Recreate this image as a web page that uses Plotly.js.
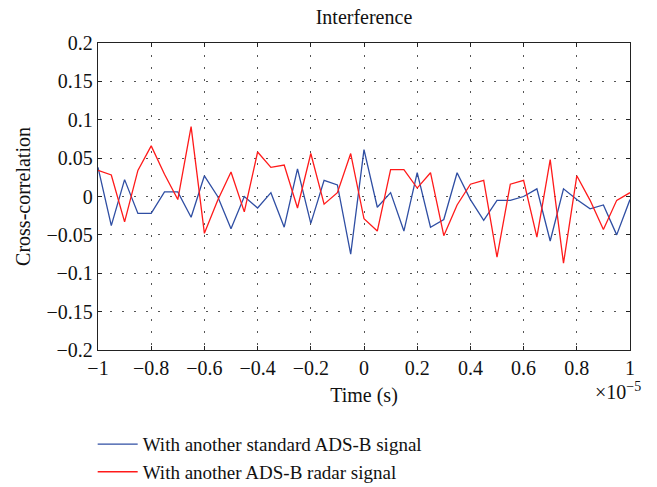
<!DOCTYPE html>
<html>
<head>
<meta charset="utf-8">
<script src="https://cdn.plot.ly/plotly-3.0.1.min.js"></script>
<style>html,body{margin:0;padding:0;background:#fff;}#chart{width:657px;height:487px;}</style>
</head>
<body>
<div id="chart"></div>
<script>
// time in units of 1e-5 s
const timeVals = [-1.00,-0.95,-0.90,-0.85,-0.80,-0.75,-0.70,-0.65,-0.60,-0.55,-0.50,-0.45,-0.40,-0.35,-0.30,-0.25,-0.20,-0.15,-0.10,-0.05,
  0.00,0.05,0.10,0.15,0.20,0.25,0.30,0.35,0.40,0.45,0.50,0.55,0.60,0.65,0.70,0.75,0.80,0.85,0.90,0.95,1.00];

const standardADSB = [0.038,-0.038,0.022,-0.022,-0.022,0.006,0.006,-0.027,0.027,0.000,-0.042,0.000,-0.015,0.005,-0.040,0.036,-0.035,0.021,0.015,-0.075,
  0.061,-0.014,0.005,-0.045,0.031,-0.040,-0.030,0.031,-0.004,-0.031,-0.005,-0.005,0.000,0.010,-0.058,0.010,-0.004,-0.016,-0.011,-0.050,-0.004];

const radarADSB = [0.034,0.028,-0.033,0.034,0.066,0.029,-0.004,0.091,-0.048,-0.005,0.032,-0.020,0.058,0.038,0.041,-0.015,0.056,-0.010,0.005,0.056,
  -0.029,-0.045,0.035,0.035,0.011,0.031,-0.051,-0.011,0.016,0.021,-0.079,0.016,0.021,-0.053,0.048,-0.087,0.027,-0.005,-0.043,-0.005,0.005];

const seriesNames = ["With another standard ADS-B signal", "With another ADS-B radar signal"];
const xTicks = [-1,-0.8,-0.6,-0.4,-0.2,0,0.2,0.4,0.6,0.8,1];
const yTicks = [-0.2,-0.15,-0.1,-0.05,0,0.05,0.1,0.15,0.2];
const xTickText = ["\u22121","\u22120.8","\u22120.6","\u22120.4","\u22120.2","0","0.2","0.4","0.6","0.8","1"];
const yTickText = ["\u22120.2","\u22120.15","\u22120.1","\u22120.05","0","0.05","0.1","0.15","0.2"];

const FONT = "Liberation Serif, Times New Roman, serif";

const traces = [
  {x: timeVals, y: standardADSB, name: seriesNames[0], type: "scatter", mode: "lines",
   line: {color: "#2f4ea3", width: 1.3}},
  {x: timeVals, y: radarADSB, name: seriesNames[1], type: "scatter", mode: "lines",
   line: {color: "#ff1a1a", width: 1.3}}
];

const axisCommon = {
  showline: true, linecolor: "#222", linewidth: 1.2, mirror: "ticks",
  ticks: "inside", ticklen: 4, tickcolor: "#222",
  showgrid: true, gridcolor: "#555", griddash: "1.5px,10.5px", gridwidth: 1,
  zeroline: false, tickangle: 0, tickfont: {family: FONT, size: 20, color: "#111"}
};

const layout = {
  width: 657, height: 487,
  paper_bgcolor: "#fff", plot_bgcolor: "#fff",
  margin: {l: 98, r: 27, t: 43, b: 137, autoexpand: false},
  font: {family: FONT, color: "#111"},
  title: {text: "Interference", font: {family: FONT, size: 20, color: "#111"},
          x: 0.554, xanchor: "center", y: 0.965, yanchor: "middle", yref: "container"},
  xaxis: Object.assign({}, axisCommon, {
    range: [-1, 1], tickvals: xTicks, ticktext: xTickText, automargin: false,
    title: {text: "Time (s)", font: {family: FONT, size: 20, color: "#111"}, standoff: 9}
  }),
  yaxis: Object.assign({}, axisCommon, {
    range: [-0.2, 0.2], tickvals: yTicks, ticktext: yTickText, automargin: false,
    title: {text: "Cross-correlation", font: {family: FONT, size: 20, color: "#111"}, standoff: 10}
  }),
  showlegend: true,
  legend: {x: -0.01, xanchor: "left", y: -0.245, yanchor: "top", orientation: "v", itemwidth: 40,
           font: {family: FONT, size: 19, color: "#111"}, bgcolor: "rgba(0,0,0,0)", tracegroupgap: 0},
  annotations: [{
    text: "\u00d710<sup>\u22125</sup>", xref: "paper", yref: "paper", x: 1.025, y: -0.088,
    xanchor: "right", yanchor: "top", showarrow: false,
    font: {family: FONT, size: 20, color: "#111"}
  }]
};

Plotly.newPlot("chart", traces, layout, {displayModeBar: false, staticPlot: true});
</script>
</body>
</html>
